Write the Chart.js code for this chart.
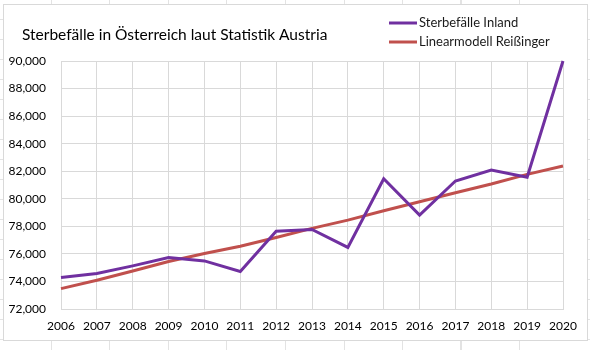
<!DOCTYPE html>
<html>
<head>
<meta charset="utf-8">
<script src="https://cdn.jsdelivr.net/npm/chart.js@4/dist/chart.umd.min.js"></script>
<style>
  html, body { margin: 0; padding: 0; }
  body {
    width: 590px; height: 350px; overflow: hidden; position: relative;
    background-color: #ffffff;
    background-image:
      repeating-linear-gradient(to right, transparent 0px, transparent 51px, #e3e3e3 51px, #e3e3e3 52px, transparent 52px, transparent 58.5px),
      repeating-linear-gradient(to bottom, transparent 0px, transparent 19px, #e3e3e3 19px, #e3e3e3 20px);
  }
  #box {
    position: absolute; left: 3px; top: 4px; width: 583px; height: 335px;
    background: #ffffff; border: 1px solid #d9d9d9;
  }
  canvas { display: block; }
</style>
</head>
<body>
<div id="box"><canvas id="c" width="583" height="335"></canvas></div>
<script>
const years = ["2006","2007","2008","2009","2010","2011","2012","2013","2014","2015","2016","2017","2018","2019","2020"];
const sterbefaelle = [74280, 74575, 75130, 75740, 75490, 74720, 77650, 77770, 76470, 81450, 78810, 81290, 82090, 81560, 90000];
const linearmodell = [73480, 74090, 74760, 75450, 76030, 76560, 77190, 77850, 78450, 79130, 79780, 80440, 81070, 81770, 82380];
const seriesNames = ["Sterbefälle Inland", "Linearmodell Reißinger"];
const titleText = "Sterbefälle in Österreich laut Statistik Austria";

const FONT = "Lato, 'Open Sans', sans-serif";

const titleLegendPlugin = {
  id: 'titleLegend',
  afterDraw(chart) {
    const ctx = chart.ctx;
    ctx.save();
    ctx.textBaseline = "middle";
    ctx.textAlign = "left";
    ctx.fillStyle = "#000000";
    ctx.font = "15.5px " + FONT;
    ctx.fillText(titleText, 18, 30);
    ctx.font = "13px " + FONT;
    chart.data.datasets.forEach((ds, i) => {
      const y = 18 + i * 19;
      ctx.strokeStyle = ds.borderColor;
      ctx.lineWidth = 3;
      ctx.beginPath();
      ctx.moveTo(385, y);
      ctx.lineTo(413, y);
      ctx.stroke();
      ctx.fillStyle = "#1a1a1a";
      ctx.fillText(ds.label, 415, y);
    });
    ctx.restore();
  }
};

new Chart(document.getElementById('c'), {
  type: 'line',
  data: {
    labels: years,
    datasets: [
      { label: seriesNames[0], data: sterbefaelle, borderColor: '#7030A0', backgroundColor: '#7030A0',
        borderWidth: 3, pointRadius: 0, tension: 0, clip: false },
      { label: seriesNames[1], data: linearmodell, borderColor: '#C0504D', backgroundColor: '#C0504D',
        borderWidth: 3, pointRadius: 0, tension: 0, clip: false }
    ]
  },
  options: {
    responsive: false,
    animation: false,
    events: [],
    layout: { padding: { left: 0, right: 24, top: 56, bottom: 0 } },
    plugins: {
      legend: { display: false },
      tooltip: { enabled: false },
      title: { display: false }
    },
    scales: {
      x: {
        offset: false,
        grid: { color: '#d9d9d9', lineWidth: 1, drawTicks: false },
        border: { color: '#d9d9d9' },
        ticks: { color: '#000000', font: { family: FONT, size: 12 }, padding: 10, maxRotation: 0, autoSkip: false },
        afterFit(scale) { scale.height = 31; }
      },
      y: {
        min: 72000, max: 90000,
        grid: { color: '#d9d9d9', lineWidth: 1, drawTicks: false },
        border: { display: false },
        ticks: {
          stepSize: 2000, color: '#000000', font: { family: FONT, size: 12 }, padding: 15,
          callback: v => v.toLocaleString('en-US')
        },
        afterFit(scale) { scale.width = 57; }
      }
    }
  },
  plugins: [titleLegendPlugin]
});
</script>
</body>
</html>
